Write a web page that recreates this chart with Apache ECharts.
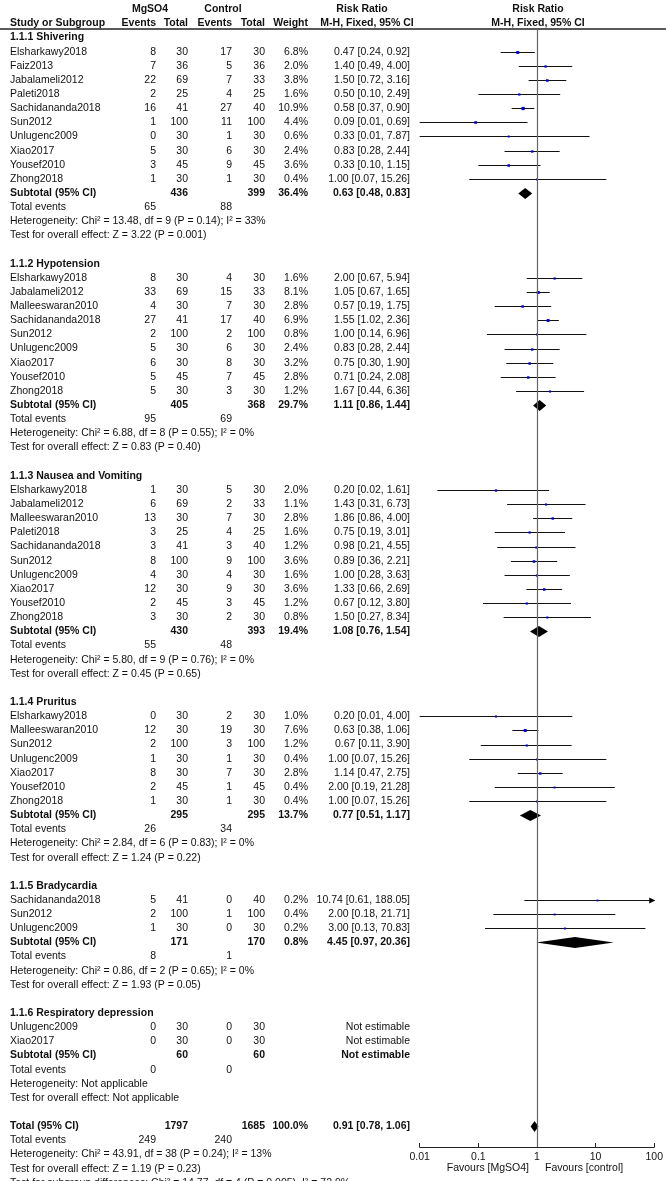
<!DOCTYPE html>
<html><head><meta charset="utf-8">
<script src="https://cdn.jsdelivr.net/npm/echarts@6/dist/echarts.min.js"></script>
<style>html,body{margin:0;padding:0;background:#fff}#c{width:666px;height:1181px}</style>
</head><body><div id="c"></div>
<script>
// ---------------- DATA ----------------
const groupTitles = ['1.1.1 Shivering','1.1.2 Hypotension','1.1.3 Nausea and Vomiting','1.1.4 Pruritus','1.1.5 Bradycardia','1.1.6 Respiratory depression'];
const studyNames = [
 ['Elsharkawy2018','Faiz2013','Jabalameli2012','Paleti2018','Sachidananda2018','Sun2012','Unlugenc2009','Xiao2017','Yousef2010','Zhong2018'],
 ['Elsharkawy2018','Jabalameli2012','Malleeswaran2010','Sachidananda2018','Sun2012','Unlugenc2009','Xiao2017','Yousef2010','Zhong2018'],
 ['Elsharkawy2018','Jabalameli2012','Malleeswaran2010','Paleti2018','Sachidananda2018','Sun2012','Unlugenc2009','Xiao2017','Yousef2010','Zhong2018'],
 ['Elsharkawy2018','Malleeswaran2010','Sun2012','Unlugenc2009','Xiao2017','Yousef2010','Zhong2018'],
 ['Sachidananda2018','Sun2012','Unlugenc2009'],
 ['Unlugenc2009','Xiao2017']
];
const mgEvents = [[8,7,22,2,16,1,0,5,3,1],[8,33,4,27,2,5,6,5,5],[1,6,13,3,3,8,4,12,2,3],[0,12,2,1,8,2,1],[5,2,1],[0,0]];
const mgTotals = [[30,36,69,25,41,100,30,30,45,30],[30,69,30,41,100,30,30,45,30],[30,69,30,25,41,100,30,30,45,30],[30,30,100,30,30,45,30],[41,100,30],[30,30]];
const ctEvents = [[17,5,7,4,27,11,1,6,9,1],[4,15,7,17,2,6,8,7,3],[5,2,7,4,3,9,4,9,3,2],[2,19,3,1,7,1,1],[0,1,0],[0,0]];
const ctTotals = [[30,36,33,25,40,100,30,30,45,30],[30,33,30,40,100,30,30,45,30],[30,33,30,25,40,100,30,30,45,30],[30,30,100,30,30,45,30],[40,100,30],[30,30]];
const weights = [[6.8,2.0,3.8,1.6,10.9,4.4,0.6,2.4,3.6,0.4],[1.6,8.1,2.8,6.9,0.8,2.4,3.2,2.8,1.2],[2.0,1.1,2.8,1.6,1.2,3.6,1.6,3.6,1.2,0.8],[1.0,7.6,1.2,0.4,2.8,0.4,0.4],[0.2,0.4,0.2],[null,null]];
const rrEst = [[0.47,1.40,1.50,0.50,0.58,0.09,0.33,0.83,0.33,1.00],[2.00,1.05,0.57,1.55,1.00,0.83,0.75,0.71,1.67],[0.20,1.43,1.86,0.75,0.98,0.89,1.00,1.33,0.67,1.50],[0.20,0.63,0.67,1.00,1.14,2.00,1.00],[10.74,2.00,3.00],[null,null]];
const rrLow = [[0.24,0.49,0.72,0.10,0.37,0.01,0.01,0.28,0.10,0.07],[0.67,0.67,0.19,1.02,0.14,0.28,0.30,0.24,0.44],[0.02,0.31,0.86,0.19,0.21,0.36,0.28,0.66,0.12,0.27],[0.01,0.38,0.11,0.07,0.47,0.19,0.07],[0.61,0.18,0.13],[null,null]];
const rrHigh = [[0.92,4.00,3.16,2.49,0.90,0.69,7.87,2.44,1.15,15.26],[5.94,1.65,1.75,2.36,6.96,2.44,1.90,2.08,6.36],[1.61,6.73,4.00,3.01,4.55,2.21,3.63,2.69,3.80,8.34],[4.00,1.06,3.90,15.26,2.75,21.28,15.26],[188.05,21.71,70.83],[null,null]];
const subN1 = [436,405,430,295,171,60];
const subN2 = [399,368,393,295,170,60];
const subWeight = [36.4,29.7,19.4,13.7,0.8,null];
const subRR = [0.63,1.11,1.08,0.77,4.45,null];
const subLow = [0.48,0.86,0.76,0.51,0.97,null];
const subHigh = [0.83,1.44,1.54,1.17,20.36,null];
const subEvents1 = [65,95,55,26,8,0];
const subEvents2 = [88,69,48,34,1,0];
const hetTexts = ['Heterogeneity: Chi² = 13.48, df = 9 (P = 0.14); I² = 33%','Heterogeneity: Chi² = 6.88, df = 8 (P = 0.55); I² = 0%','Heterogeneity: Chi² = 5.80, df = 9 (P = 0.76); I² = 0%','Heterogeneity: Chi² = 2.84, df = 6 (P = 0.83); I² = 0%','Heterogeneity: Chi² = 0.86, df = 2 (P = 0.65); I² = 0%','Heterogeneity: Not applicable'];
const effectTexts = ['Test for overall effect: Z = 3.22 (P = 0.001)','Test for overall effect: Z = 0.83 (P = 0.40)','Test for overall effect: Z = 0.45 (P = 0.65)','Test for overall effect: Z = 1.24 (P = 0.22)','Test for overall effect: Z = 1.93 (P = 0.05)','Test for overall effect: Not applicable'];
const totalN = [1797,1685];
const totalWeight = 100.0;
const totalRR = [0.91,0.78,1.06];
const totalEvents = [249,240];
const totalHet = 'Heterogeneity: Chi² = 43.91, df = 38 (P = 0.24); I² = 13%';
const totalEffect = 'Test for overall effect: Z = 1.19 (P = 0.23)';
const subgroupTest = 'Test for subgroup differences: Chi² = 14.77, df = 4 (P = 0.005), I² = 72.9%';
const axisTicks = [0.01,0.1,1,10,100];
const favoursLeft = 'Favours [MgSO4]';
const favoursRight = 'Favours [control]';

// ---------------- LAYOUT ----------------
const W = 666, H = 1181;
const ROW0 = 37.5, ROWH = 14.14;
const HEADER_LINE_Y = 29, AXIS_Y = 1147;
const PLOT_LEFT = 419.7, PLOT_W = 236;
const COL = {name:10, e1:156, n1:188, e2:232, n2:265, w:308, rr:410};
const FONT = '"Liberation Sans", Arial, sans-serif';
const FS = 10.5;
const pxToRow = y => (y - ROW0) / ROWH;

const fmt2 = v => v.toFixed(2);
const rrText = (r,l,h) => r == null ? 'Not estimable' : fmt2(r) + ' [' + fmt2(l) + ', ' + fmt2(h) + ']';
const wText = w => w == null ? '' : w.toFixed(1) + '%';

const texts = [];
const forest = [];
function add(x,row,text,align,bold){ if(text===''||text==null) return; texts.push({x,row,text:String(text),align,bold:!!bold}); }

// header
add(10,-1,'Study or Subgroup','left',true);
add(150,-2,'MgSO4','center',true);
add(COL.e1,-1,'Events','right',true);
add(COL.n1,-1,'Total','right',true);
add(223,-2,'Control','center',true);
add(COL.e2,-1,'Events','right',true);
add(COL.n2,-1,'Total','right',true);
add(COL.w,-1,'Weight','right',true);
add(362,-2,'Risk Ratio','center',true);
add(367,-1,'M-H, Fixed, 95% CI','center',true);
add(538,-2,'Risk Ratio','center',true);
add(538,-1,'M-H, Fixed, 95% CI','center',true);

let row = 0;
groupTitles.forEach((title,g)=>{
  add(COL.name,row,title,'left',true); row++;
  studyNames[g].forEach((nm,i)=>{
    add(COL.name,row,nm,'left');
    add(COL.e1,row,mgEvents[g][i],'right');
    add(COL.n1,row,mgTotals[g][i],'right');
    add(COL.e2,row,ctEvents[g][i],'right');
    add(COL.n2,row,ctTotals[g][i],'right');
    add(COL.w,row,wText(weights[g][i]),'right');
    add(COL.rr,row,rrText(rrEst[g][i],rrLow[g][i],rrHigh[g][i]),'right');
    if(rrEst[g][i]!=null) forest.push([rrEst[g][i],row,rrLow[g][i],rrHigh[g][i],weights[g][i],0]);
    row++;
  });
  add(COL.name,row,'Subtotal (95% CI)','left',true);
  add(COL.n1,row,subN1[g],'right',true);
  add(COL.n2,row,subN2[g],'right',true);
  add(COL.w,row,wText(subWeight[g]),'right',true);
  add(COL.rr,row,rrText(subRR[g],subLow[g],subHigh[g]),'right',true);
  if(subRR[g]!=null) forest.push([subRR[g],row,subLow[g],subHigh[g],0,1]);
  row++;
  add(COL.name,row,'Total events','left');
  add(COL.e1,row,subEvents1[g],'right');
  add(COL.e2,row,subEvents2[g],'right');
  row++;
  add(COL.name,row,hetTexts[g],'left'); row++;
  add(COL.name,row,effectTexts[g],'left'); row++;
  row++;
});
add(COL.name,row,'Total (95% CI)','left',true);
add(COL.n1,row,totalN[0],'right',true);
add(COL.n2,row,totalN[1],'right',true);
add(COL.w,row,wText(totalWeight),'right',true);
add(COL.rr,row,rrText(totalRR[0],totalRR[1],totalRR[2]),'right',true);
forest.push([totalRR[0],row,totalRR[1],totalRR[2],0,1]);
row++;
add(COL.name,row,'Total events','left');
add(COL.e1,row,totalEvents[0],'right');
add(COL.e2,row,totalEvents[1],'right');
row++;
add(COL.name,row,totalHet,'left'); row++;
add(COL.name,row,totalEffect,'left'); row++;
add(COL.name,row,subgroupTest,'left'); row++;
const favRow = pxToRow(1168.5);
add(529,favRow,favoursLeft,'right');
add(545,favRow,favoursRight,'left');

// ---------------- CHART ----------------
const chart = echarts.init(document.getElementById('c'), null, {renderer:'canvas'});
const option = {
  animation:false,
  backgroundColor:'#fff',
  grid:[
    {left:0, top:0, width:W, height:H},
    {left:PLOT_LEFT, top:HEADER_LINE_Y, width:PLOT_W, height:AXIS_Y-HEADER_LINE_Y}
  ],
  xAxis:[
    {type:'value', gridIndex:0, min:0, max:W, show:false},
    {type:'log', gridIndex:1, logBase:10, min:0.01, max:100, position:'bottom',
     axisLine:{show:true, onZero:false, lineStyle:{color:'#222', width:1}},
     axisTick:{show:true, inside:true, length:4, lineStyle:{color:'#222'}},
     minorTick:{show:false}, splitLine:{show:false},
     axisLabel:{show:true, margin:5, color:'#111', fontSize:FS, fontFamily:FONT,
       formatter:v=>{ const t = axisTicks.find(a=>Math.abs(Math.log10(a)-Math.log10(v))<1e-6); return t==null?'':String(t); }}
    }
  ],
  yAxis:[
    {type:'value', gridIndex:0, inverse:true, min:pxToRow(0), max:pxToRow(H), show:false},
    {type:'value', gridIndex:1, inverse:true, min:pxToRow(HEADER_LINE_Y), max:pxToRow(AXIS_Y), show:false}
  ],
  series:[
    {
      type:'custom', xAxisIndex:0, yAxisIndex:0, silent:true,
      data: texts.map((t,i)=>[t.x,t.row,i]),
      encode:{x:0,y:1},
      renderItem:(params,api)=>{
        const t = texts[api.value(2)];
        const p = api.coord([api.value(0),api.value(1)]);
        return {type:'text', x:p[0], y:p[1], style:{
          text:t.text, textAlign:t.align, align:t.align, textVerticalAlign:'middle', verticalAlign:'middle',
          fill:'#111', font:(t.bold?'bold ':'')+FS+'px '+FONT }};
      },
      markLine:{silent:true, symbol:'none', label:{show:false},
        lineStyle:{color:'#222', width:1.5, type:'solid'},
        data:[{yAxis:pxToRow(HEADER_LINE_Y)}]}
    },
    {
      type:'custom', xAxisIndex:1, yAxisIndex:1, silent:true, clip:false,
      data: forest,
      encode:{x:0,y:1},
      renderItem:(params,api)=>{
        const rr=api.value(0), r=api.value(1), lo=api.value(2), hi=api.value(3), w=api.value(4), kind=api.value(5);
        const pc = api.coord([rr,r]);
        const pl = api.coord([Math.max(lo,0.01),r]);
        const ph = api.coord([Math.min(hi,100),r]);
        const y = Math.round(pc[1])+0.5;
        if(kind===1){
          const hh = 5.5;
          return {type:'polygon', shape:{points:[[pl[0],y],[pc[0],y-hh],[ph[0],y],[pc[0],y+hh]]}, style:{fill:'#000'}};
        }
        const s = 1.6 + 0.5*Math.sqrt(w);
        const children = [
          {type:'line', shape:{x1:pl[0],y1:y,x2:ph[0],y2:y}, style:{stroke:'#111', lineWidth:1}},
          {type:'rect', shape:{x:pc[0]-s/2,y:y-s/2,width:s,height:s}, style:{fill:'#0000e0'}}
        ];
        if(hi>100){
          children.push({type:'polygon', shape:{points:[[ph[0]-5,y-3],[ph[0]+1,y],[ph[0]-5,y+3]]}, style:{fill:'#000'}});
        }
        return {type:'group', children};
      },
      markLine:{silent:true, symbol:'none', label:{show:false},
        lineStyle:{color:'#666', width:1.2, type:'solid'},
        data:[{xAxis:1}]}
    }
  ]
};
chart.setOption(option);
</script></body></html>
